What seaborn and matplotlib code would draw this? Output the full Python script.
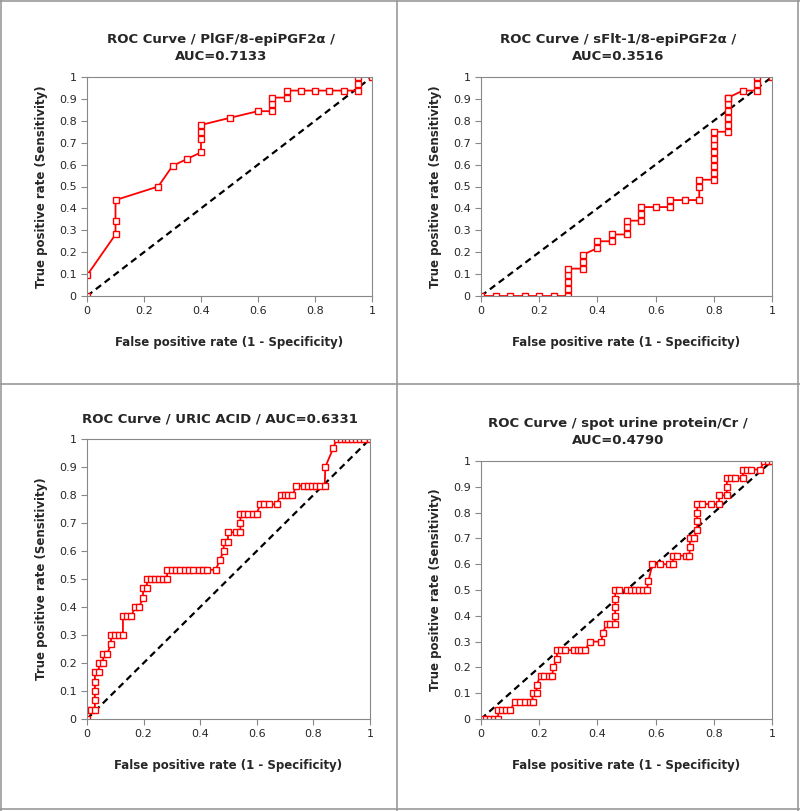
import matplotlib
matplotlib.use("Agg")
import matplotlib.pyplot as plt
import seaborn as sns
import pandas as pd
from matplotlib.lines import Line2D

# --- dados ---
plgf_fpr = [0, 0, 0.1, 0.1, 0.1, 0.25, 0.3, 0.35, 0.4, 0.4, 0.4, 0.4, 0.5, 0.6, 0.65, 0.65, 0.65,
            0.7, 0.7, 0.75, 0.8, 0.85, 0.9, 0.95, 0.95, 0.95, 1]
plgf_tpr = [0, 0.094, 0.281, 0.344, 0.438, 0.5, 0.594, 0.625, 0.656, 0.719, 0.75, 0.781, 0.813, 0.844,
            0.844, 0.875, 0.906, 0.906, 0.938, 0.938, 0.938, 0.938, 0.938, 0.938, 0.969, 1, 1]

sflt_fpr = [0, 0.05, 0.1, 0.15, 0.2, 0.25, 0.3, 0.3, 0.3, 0.3, 0.3, 0.35, 0.35, 0.35, 0.4, 0.4, 0.45,
            0.45, 0.5, 0.5, 0.5, 0.55, 0.55, 0.55, 0.6, 0.65, 0.65, 0.7, 0.75, 0.75, 0.75, 0.8, 0.8,
            0.8, 0.8, 0.8, 0.8, 0.8, 0.8, 0.85, 0.85, 0.85, 0.85, 0.85, 0.85, 0.85, 0.9, 0.95, 0.95, 0.95, 1]
sflt_tpr = [0, 0, 0, 0, 0, 0, 0, 0.031, 0.063, 0.094, 0.125, 0.125, 0.156, 0.188, 0.219, 0.25, 0.25,
            0.281, 0.281, 0.313, 0.344, 0.344, 0.375, 0.406, 0.406, 0.406, 0.438, 0.438, 0.438, 0.5,
            0.531, 0.531, 0.563, 0.594, 0.625, 0.656, 0.688, 0.719, 0.75, 0.75, 0.781, 0.813, 0.844,
            0.875, 0.906, 0.906, 0.938, 0.938, 0.969, 1, 1]

uric_fpr = [0, 0, 0.015, 0.028, 0.028, 0.028, 0.028, 0.028, 0.042, 0.042, 0.057, 0.057, 0.071, 0.085,
            0.085, 0.1, 0.113, 0.127, 0.127, 0.142, 0.156, 0.17, 0.184, 0.198, 0.198, 0.212, 0.212,
            0.226, 0.24, 0.254, 0.268, 0.283, 0.283, 0.3, 0.315, 0.33, 0.345, 0.36, 0.375, 0.396,
            0.41, 0.424, 0.455, 0.469, 0.483, 0.483, 0.498, 0.498, 0.528, 0.542, 0.542, 0.542, 0.556,
            0.57, 0.585, 0.599, 0.613, 0.627, 0.642, 0.67, 0.684, 0.698, 0.712, 0.726, 0.74, 0.766,
            0.78, 0.795, 0.809, 0.823, 0.84, 0.842, 0.87, 0.882, 0.896, 0.91, 0.924, 0.938, 0.952,
            0.966, 0.98, 1]
uric_tpr = [0, 0.033, 0.033, 0.033, 0.067, 0.1, 0.133, 0.167, 0.167, 0.2, 0.2, 0.233, 0.233, 0.267,
            0.3, 0.3, 0.3, 0.3, 0.367, 0.367, 0.367, 0.4, 0.4, 0.433, 0.467, 0.467, 0.5, 0.5, 0.5,
            0.5, 0.5, 0.5, 0.533, 0.533, 0.533, 0.533, 0.533, 0.533, 0.533, 0.533, 0.533, 0.533,
            0.533, 0.567, 0.6, 0.633, 0.633, 0.667, 0.667, 0.667, 0.7, 0.733, 0.733, 0.733, 0.733,
            0.733, 0.767, 0.767, 0.767, 0.767, 0.8, 0.8, 0.8, 0.8, 0.833, 0.833, 0.833, 0.833,
            0.833, 0.833, 0.833, 0.9, 0.967, 1, 1, 1, 1, 1, 1, 1, 1, 1]

urine_fpr = [0, 0.018, 0.032, 0.045, 0.059, 0.059, 0.073, 0.086, 0.1, 0.116, 0.133, 0.15, 0.167,
             0.177, 0.177, 0.191, 0.191, 0.205, 0.218, 0.232, 0.245, 0.248, 0.261, 0.261, 0.275,
             0.289, 0.318, 0.332, 0.345, 0.359, 0.373, 0.414, 0.418, 0.432, 0.445, 0.459, 0.461,
             0.461, 0.461, 0.461, 0.475, 0.502, 0.516, 0.53, 0.543, 0.557, 0.57, 0.575, 0.589, 0.616,
             0.645, 0.659, 0.661, 0.675, 0.705, 0.716, 0.718, 0.718, 0.732, 0.743, 0.743, 0.743,
             0.743, 0.759, 0.789, 0.818, 0.818, 0.845, 0.845, 0.845, 0.859, 0.873, 0.9, 0.9, 0.914,
             0.927, 0.959, 0.973, 0.986, 1]
urine_tpr = [0, 0, 0, 0, 0, 0.033, 0.033, 0.033, 0.033, 0.067, 0.067, 0.067, 0.067, 0.067, 0.1,
             0.1, 0.133, 0.167, 0.167, 0.167, 0.167, 0.2, 0.233, 0.267, 0.267, 0.267, 0.267,
             0.267, 0.267, 0.267, 0.3, 0.3, 0.333, 0.367, 0.367, 0.367, 0.4, 0.433, 0.467, 0.5,
             0.5, 0.5, 0.5, 0.5, 0.5, 0.5, 0.5, 0.533, 0.6, 0.6, 0.6, 0.6, 0.633, 0.633, 0.633,
             0.633, 0.667, 0.7, 0.7, 0.733, 0.767, 0.8, 0.833, 0.833, 0.833, 0.833, 0.867, 0.867,
             0.9, 0.933, 0.933, 0.933, 0.933, 0.967, 0.967, 0.967, 0.967, 1, 1, 1]

titles = ["ROC Curve / PlGF/8-epiPGF2α /\nAUC=0.7133",
          "ROC Curve / sFlt-1/8-epiPGF2α /\nAUC=0.3516",
          "ROC Curve / URIC ACID / AUC=0.6331",
          "ROC Curve / spot urine protein/Cr /\nAUC=0.4790"]
series = [(plgf_fpr, plgf_tpr), (sflt_fpr, sflt_tpr), (uric_fpr, uric_tpr), (urine_fpr, urine_tpr)]

sns.set_style("white")
plt.rcParams['font.family'] = ['DejaVu Sans']

fig = plt.figure(figsize=(8, 8.11), dpi=100)
W, H = 800, 811
# caixas dos eixos em pixels: esquerda, direita, topo, base
boxes = [(87, 372, 77, 296), (481, 772, 77, 296), (87, 370, 439, 719), (481, 772, 461, 719)]

for i, ((fpr, tpr), title, (l, r, t, b)) in enumerate(zip(series, titles, boxes)):
    ax = fig.add_axes([l / W, 1 - b / H, (r - l) / W, (b - t) / H])
    df = pd.DataFrame({"fpr": fpr, "tpr": tpr})
    ax.plot([0, 1], [0, 1], color="black", linestyle="--", linewidth=1.6, dashes=(3, 2))
    sns.lineplot(data=df, x="fpr", y="tpr", ax=ax, sort=False, estimator=None, color="red",
                 linewidth=1.3, marker="s", markersize=5, markerfacecolor="white",
                 markeredgecolor="red", markeredgewidth=1.0)
    ax.set_xlim(0, 1)
    ax.set_ylim(0, 1)
    ax.set_xticks([0, 0.2, 0.4, 0.6, 0.8, 1])
    ax.set_xticklabels(["0", "0.2", "0.4", "0.6", "0.8", "1"])
    ax.set_yticks([k / 10 for k in range(11)])
    ax.set_yticklabels(["0"] + [f"{k/10:g}" for k in range(1, 10)] + ["1"])
    ax.tick_params(axis="both", labelsize=8, length=4, direction="out", color="#888888",
                   left=True, bottom=True)
    for s in ax.spines.values():
        s.set_color("#888888")
    ax.set_xlabel("False positive rate (1 - Specificity)", fontsize=8.5, fontweight="bold", labelpad=14)
    ax.set_ylabel("True positive rate (Sensitivity)", fontsize=8.5, fontweight="bold", labelpad=8)
    ax.set_title(title, fontsize=9.5, fontweight="bold", pad=12, x=0.47, linespacing=1.4)

# molduras dos painéis
for x in [1, 397, 798]:
    fig.add_artist(Line2D([x / W, x / W], [0, 1], color="#999999", linewidth=1.2))
for y in [1, 384, 809]:
    fig.add_artist(Line2D([0, 1], [1 - y / H, 1 - y / H], color="#999999", linewidth=1.2))

fig.savefig("out.png", dpi=100)
